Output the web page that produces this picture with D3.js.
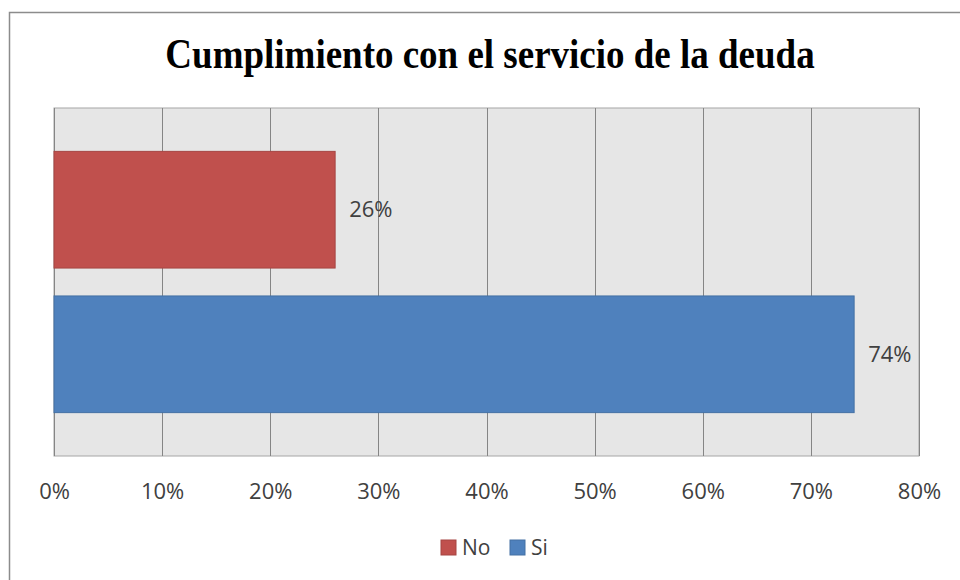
<!DOCTYPE html>
<html>
<head>
<meta charset="utf-8">
<script src="https://cdn.jsdelivr.net/npm/d3@7"></script>
<style>
  body { margin: 0; background: #fff; }
</style>
</head>
<body>
<div id="chart"></div>
<script>
// Data
var series = ['No', 'Si']
var values = [0.26, 0.74]
var colors = ['#c0504d', '#4f81bd']
var tickValues = [0, 0.1, 0.2, 0.3, 0.4, 0.5, 0.6, 0.7, 0.8]
var title = 'Cumplimiento con el servicio de la deuda'

var margin = { top: 108, left: 54, right: 41, bottom: 124 }
var width = 960 - margin.left - margin.right
var height = 580 - margin.top - margin.bottom

var labelFont = 'Open Sans, sans-serif'

var root = d3
  .select('#chart')
  .append('svg')
  .attr('width', 960)
  .attr('height', 580)

// outer chart border
root
  .append('path')
  .attr('d', 'M9.5,580 V12.5 H960')
  .attr('fill', 'none')
  .attr('stroke', '#8c8c8c')
  .attr('stroke-width', 1.5)

// title, a bit taller than wide like the original
root
  .append('text')
  .text(title)
  .attr('transform', 'translate(490,68) scale(1,1.12)')
  .attr('text-anchor', 'middle')
  .attr('font-family', 'Liberation Serif, Times New Roman, serif')
  .attr('font-weight', 'bold')
  .attr('font-size', 37)
  .attr('fill', '#000')

var svg = root
  .append('g')
  .attr('transform', 'translate(' + margin.left + ',' + margin.top + ')')

var xPositionScale = d3.scaleLinear().domain([0, 0.8]).range([0, width])

var yPositionScale = d3
  .scaleBand()
  .domain(series)
  .range([0, height])
  .paddingInner(0.193)
  .paddingOuter(0.3)

// plot background
svg
  .append('rect')
  .attr('width', width)
  .attr('height', height)
  .attr('fill', '#e6e6e6')
  .attr('stroke', '#a6a6a6')

// gridlines
svg
  .selectAll('.grid')
  .data(tickValues)
  .enter()
  .append('line')
  .attr('class', 'grid')
  .attr('x1', d => Math.round(xPositionScale(d)) + 0.5)
  .attr('x2', d => Math.round(xPositionScale(d)) + 0.5)
  .attr('y1', 0)
  .attr('y2', height)
  .attr('stroke', '#858585')
  .attr('stroke-width', 1)

// bars
svg
  .selectAll('.bar')
  .data(series)
  .enter()
  .append('rect')
  .attr('class', 'bar')
  .attr('x', 0)
  .attr('y', d => yPositionScale(d))
  .attr('width', (d, i) => xPositionScale(values[i]))
  .attr('height', yPositionScale.bandwidth())
  .attr('fill', (d, i) => colors[i])
  .attr('stroke', (d, i) => d3.color(colors[i]).darker(0.4))
  .attr('stroke-width', 1)

// value labels
svg
  .selectAll('.value-label')
  .data(series)
  .enter()
  .append('text')
  .attr('class', 'value-label')
  .text((d, i) => Math.round(values[i] * 100) + '%')
  .attr('x', (d, i) => xPositionScale(values[i]) + 14)
  .attr('y', d => yPositionScale(d) + yPositionScale.bandwidth() / 2)
  .attr('dy', '0.35em')
  .attr('font-family', labelFont)
  .attr('font-size', 22)
  .attr('fill', '#404040')

// x axis
var xAxis = d3
  .axisBottom(xPositionScale)
  .tickValues(tickValues)
  .tickSize(0)
  .tickPadding(27)
  .tickFormat(d3.format('.0%'))

var xg = svg
  .append('g')
  .attr('class', 'axis x-axis')
  .attr('transform', 'translate(0,' + height + ')')
  .call(xAxis)

xg.select('.domain').remove()
xg.selectAll('text')
  .attr('font-family', labelFont)
  .attr('font-size', 22)
  .attr('fill', '#404040')

// legend
var legend = root
  .append('g')
  .attr('transform', 'translate(441,540)')

var legendX = [0, 69]

legend
  .selectAll('rect')
  .data(series)
  .enter()
  .append('rect')
  .attr('x', (d, i) => legendX[i])
  .attr('y', 0)
  .attr('width', 15)
  .attr('height', 15)
  .attr('fill', (d, i) => colors[i])
  .attr('stroke', (d, i) => d3.color(colors[i]).darker(0.4))

legend
  .selectAll('text')
  .data(series)
  .enter()
  .append('text')
  .text(d => d)
  .attr('x', (d, i) => legendX[i] + 21)
  .attr('y', 8)
  .attr('dy', '0.35em')
  .attr('font-family', labelFont)
  .attr('font-size', 21)
  .attr('fill', '#404040')
</script>
</body>
</html>
